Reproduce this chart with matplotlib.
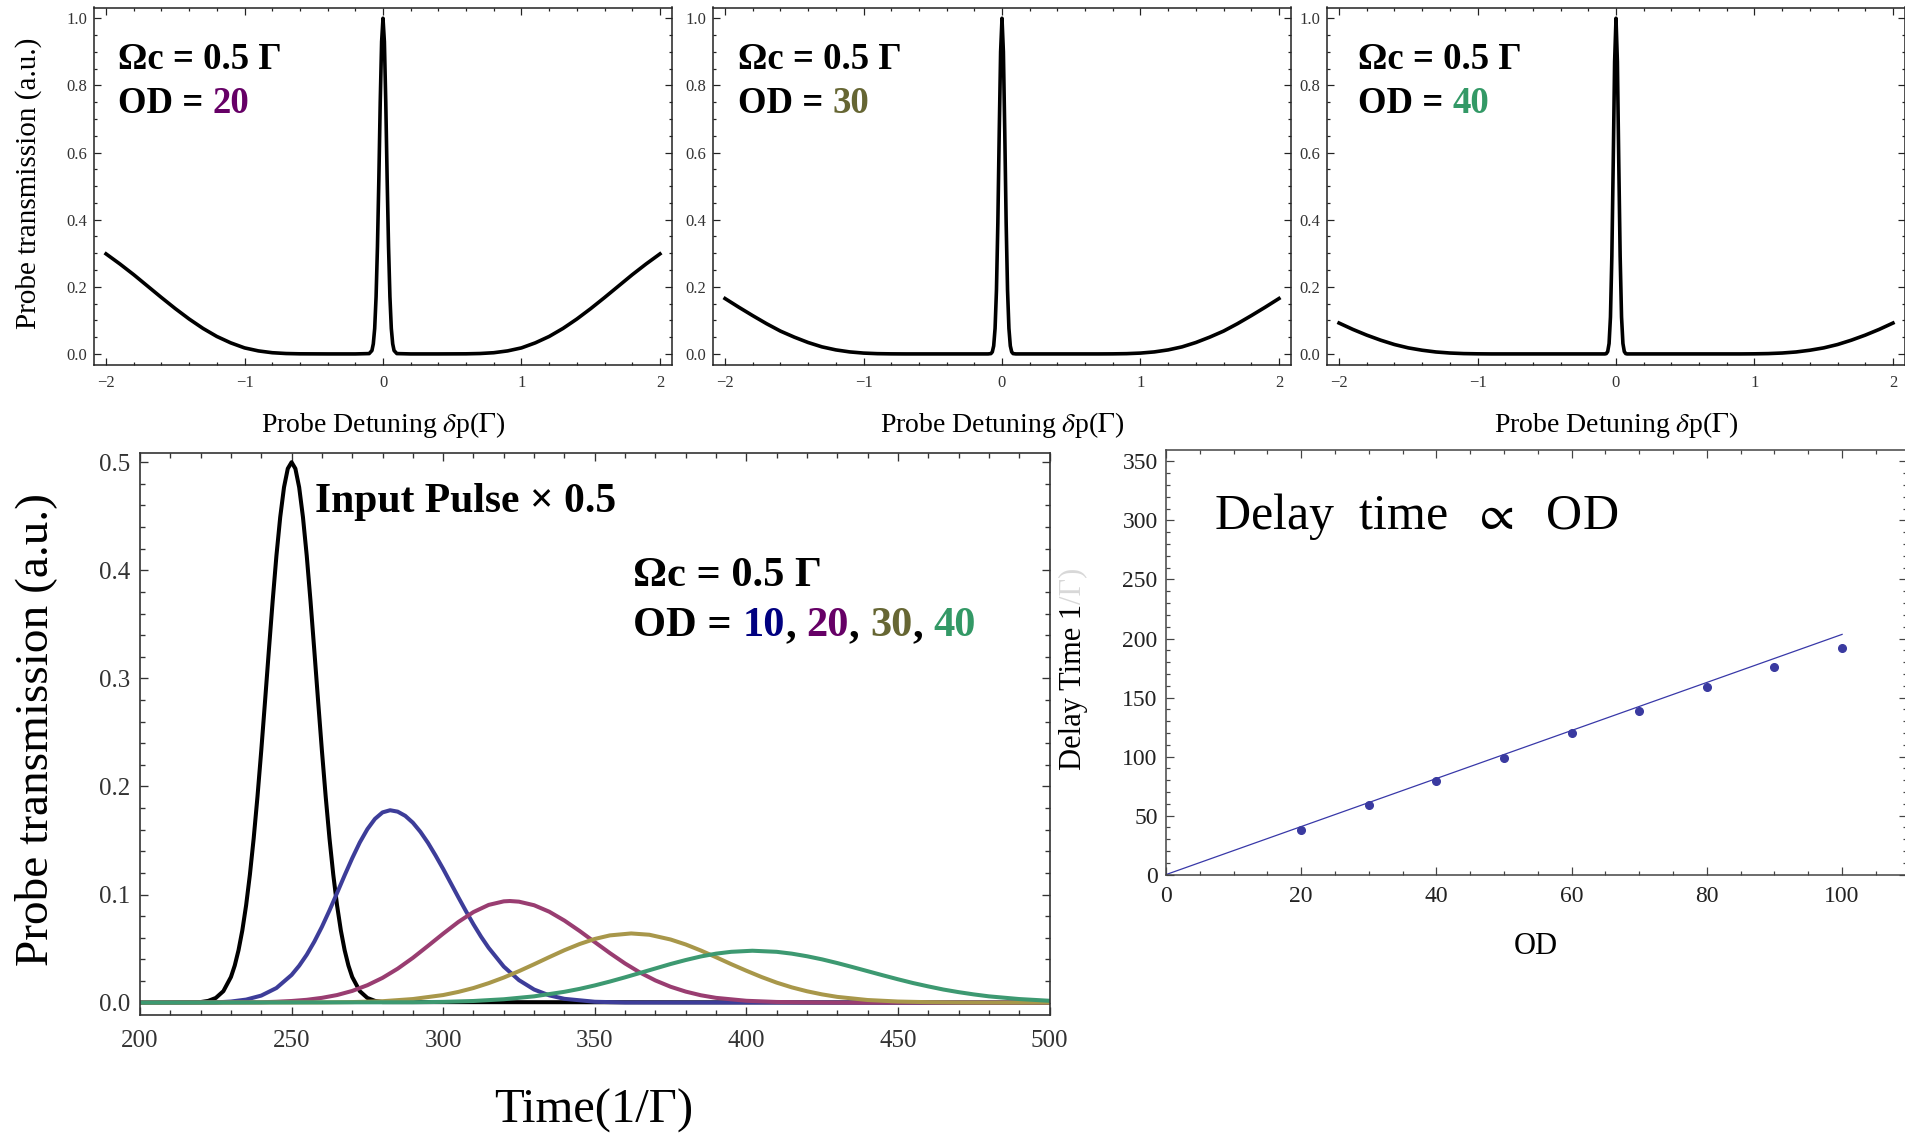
import matplotlib
matplotlib.use('Agg')
import matplotlib.pyplot as plt
from matplotlib.ticker import MultipleLocator

plt.rcParams['font.family'] = ['Liberation Serif', 'DejaVu Serif']
plt.rcParams['mathtext.fontset'] = 'stix'

# --- probe transmission spectra (half, mirrored about 0) ---
det_half = [0, 0.01, 0.02, 0.03, 0.04, 0.05, 0.06, 0.07, 0.08, 0.1, 0.2, 0.4, 0.6, 0.7,
            0.8, 0.9, 1.0, 1.1, 1.2, 1.3, 1.4, 1.5, 1.6, 1.7, 1.8, 1.9, 2.0]
trans_od20 = [1.0, 0.93, 0.75, 0.52, 0.32, 0.17, 0.076, 0.03, 0.01, 0.001, 0.0, 0.0, 0.0003, 0.0012,
              0.0036, 0.009, 0.018, 0.033, 0.052, 0.076, 0.104, 0.135, 0.168, 0.202, 0.236, 0.268, 0.298]
trans_od30 = [1.0, 0.90, 0.66, 0.39, 0.19, 0.076, 0.024, 0.006, 0.001, 0.0, 0.0, 0.0, 0.0, 0.0,
              0.0002, 0.0008, 0.0025, 0.006, 0.012, 0.021, 0.034, 0.050, 0.068, 0.090, 0.114, 0.139, 0.165]
trans_od40 = [1.0, 0.87, 0.57, 0.29, 0.11, 0.031, 0.007, 0.001, 0.0, 0.0, 0.0, 0.0, 0.0, 0.0,
              0.0, 0.0, 0.0003, 0.001, 0.0027, 0.0058, 0.011, 0.018, 0.028, 0.041, 0.056, 0.073, 0.092]
panel_od = ['20', '30', '40']
od_colors = {'10': '#000080', '20': '#660066', '30': '#666633', '40': '#339966'}

# --- pulses vs time ---
input_t = [200, 220, 222.5, 225, 227.5, 230, 231.25, 232.5, 233.75, 235, 236.25, 237.5, 238.75, 240,
           241.25, 242.5, 243.75, 245, 246.25, 247.5, 248.75, 250, 251.25, 252.5, 253.75, 255, 256.25,
           257.5, 258.75, 260, 261.25, 262.5, 263.75, 265, 266.25, 267.5, 268.75, 270, 272.5, 275, 277.5,
           280, 500]
input_v = [0, 0.0005, 0.0016, 0.0043, 0.0106, 0.0237, 0.0343, 0.0485, 0.0668, 0.0900, 0.1184, 0.1520,
           0.1906, 0.2333, 0.2790, 0.3257, 0.3713, 0.4135, 0.4492, 0.4768, 0.4941, 0.5, 0.4941, 0.4768,
           0.4492, 0.4135, 0.3713, 0.3257, 0.2790, 0.2333, 0.1906, 0.1520, 0.1184, 0.0900, 0.0668, 0.0485,
           0.0343, 0.0237, 0.0106, 0.0043, 0.0016, 0.0005, 0.0]
od10_t = [200, 225, 230, 235, 240, 245, 250, 252.5, 255, 257.5, 260, 262.5, 265, 267.5, 270, 272.5, 275,
          277.5, 280, 282.5, 285, 287.5, 290, 292.5, 295, 297.5, 300, 302.5, 305, 307.5, 310, 312.5, 315,
          320, 325, 330, 335, 340, 350, 360, 500]
od10_v = [0, 0.0002, 0.001, 0.0028, 0.0065, 0.0135, 0.0256, 0.0341, 0.0443, 0.0564, 0.0701, 0.0853,
          0.1014, 0.1178, 0.1336, 0.1482, 0.1605, 0.170, 0.1760, 0.178, 0.1767, 0.1728, 0.1665, 0.158,
          0.1478, 0.1361, 0.1237, 0.1106, 0.0975, 0.0847, 0.0724, 0.0610, 0.0507, 0.0333, 0.0208, 0.0121,
          0.0067, 0.0035, 0.0008, 0.0001, 0]
od20_t = [200, 240, 245, 250, 255, 260, 265, 270, 275, 280, 285, 290, 295, 300, 305, 310, 315, 320, 322,
          325, 330, 335, 340, 345, 350, 355, 360, 365, 370, 375, 380, 385, 390, 400, 410, 420, 430, 500]
od20_v = [0, 0.0003, 0.0008, 0.0015, 0.0026, 0.0044, 0.0070, 0.0108, 0.0161, 0.0229, 0.0314, 0.0414,
          0.0525, 0.0638, 0.0746, 0.0838, 0.0904, 0.0937, 0.094, 0.0934, 0.0901, 0.0841, 0.0759, 0.0663,
          0.0560, 0.0458, 0.0362, 0.0277, 0.0205, 0.0147, 0.0102, 0.0068, 0.0044, 0.0017, 0.0006, 0.0002,
          0.0, 0]
od30_t = [200, 260, 270, 280, 290, 300, 305, 310, 315, 320, 325, 330, 335, 340, 345, 350, 355, 362, 368,
          375, 380, 385, 390, 395, 400, 405, 410, 415, 420, 425, 430, 440, 450, 460, 470, 480, 500]
od30_v = [0, 0.0002, 0.0005, 0.0013, 0.0033, 0.0070, 0.0099, 0.0135, 0.0180, 0.0232, 0.0291, 0.0355,
          0.0421, 0.0485, 0.0542, 0.0589, 0.0622, 0.064, 0.0628, 0.0584, 0.0538, 0.0482, 0.0420, 0.0356,
          0.0295, 0.0237, 0.0185, 0.0141, 0.0105, 0.0076, 0.0053, 0.0024, 0.0010, 0.0004, 0.0001, 0.0, 0]
od40_t = [200, 290, 300, 310, 320, 330, 340, 345, 350, 355, 360, 365, 370, 375, 380, 385, 390, 395, 402,
          410, 415, 420, 425, 430, 435, 440, 445, 450, 455, 460, 465, 470, 475, 480, 490, 500]
od40_v = [0, 0.0003, 0.0007, 0.0015, 0.0031, 0.0058, 0.0100, 0.0127, 0.0159, 0.0195, 0.0234, 0.0275,
          0.0316, 0.0357, 0.0394, 0.0427, 0.0453, 0.0470, 0.048, 0.0470, 0.0453, 0.0429, 0.0400, 0.0366,
          0.0329, 0.0291, 0.0253, 0.0216, 0.0181, 0.0150, 0.0121, 0.0097, 0.0076, 0.0058, 0.0033, 0.0017]
pulse_colors = ['black', '#3d3d99', '#993d71', '#a8974a', '#3d9971']

# --- delay time vs OD ---
od_vals = [20, 30, 40, 50, 60, 70, 80, 90, 100]
delay_vals = [38, 59, 79, 99, 120, 139, 159, 176, 192]
fit_od = [0, 100]
fit_delay = [0, 203.5]

W, H = 1905.0, 1133.0
fig = plt.figure(figsize=(19.05, 11.33), dpi=100)


def axes_px(left, top, right, bottom):
    return fig.add_axes([left / W, 1 - bottom / H, (right - left) / W, (bottom - top) / H])


def frame(ax, col, lw, major, minor, size, labcol, pad):
    for s in ax.spines.values():
        s.set_color(col)
        s.set_linewidth(lw)
    ax.tick_params(which='both', direction='in', top=True, right=True, color=col, width=lw * 0.8)
    ax.tick_params(which='major', length=major, labelsize=size, labelcolor=labcol, pad=pad)
    ax.tick_params(which='minor', length=minor)


def rich(ax, x, y, pieces, size):
    # pieces drawn one after another, each right-aligned to an invisible running prefix
    shown = ''
    for s, c in pieces:
        shown += s
        ghost = ax.text(x, y, shown.rstrip(), transform=ax.transAxes, fontsize=size,
                        fontweight='bold', alpha=0, va='baseline')
        ax.annotate(s.strip(), xy=(1, 0), xycoords=ghost, ha='right', va='bottom',
                    fontsize=size, fontweight='bold', color=c)


# top row
x_full = [-v for v in det_half[::-1][:-1]] + det_half
lefts = [94, 713, 1327]
text_x = [0.0415, 0.0425, 0.054]
for i, trans in enumerate([trans_od20, trans_od30, trans_od40]):
    ax = axes_px(lefts[i], 7.5, lefts[i] + 578, 365)
    y_full = trans[::-1][:-1] + trans
    ax.plot(x_full, y_full, color='black', lw=2.6)
    ax.set_xlim(-2.087, 2.087)
    ax.set_ylim(-0.033, 1.032)
    ax.xaxis.set_major_locator(MultipleLocator(1))
    ax.xaxis.set_minor_locator(MultipleLocator(0.2))
    ax.yaxis.set_major_locator(MultipleLocator(0.2))
    ax.yaxis.set_minor_locator(MultipleLocator(0.05))
    ax.yaxis.set_major_formatter(plt.FuncFormatter(lambda v, p: '%.1f' % v))
    frame(ax, '#222222', 1.1, 5, 2.5, 12, '#333333', 5)
    ax.tick_params(axis='x', pad=7)
    rich(ax, text_x[i], 0.828, [('Ωc = 0.5 Γ', 'black')], 26.5)
    rich(ax, text_x[i], 0.706, [('OD = ', 'black'), (panel_od[i], od_colors[panel_od[i]])], 26.5)
    cx = (lefts[i] + 289) / W
    fig.text(cx, 1 - 425 / H, 'Probe Detuning $\\delta$p($\\Gamma$)', ha='center', va='center', fontsize=20)
fig.text(29 / W, 1 - 183 / H, 'Probe transmission (a.u.)', rotation=90, ha='center', va='center', fontsize=21)

# bottom left: pulses
ax = axes_px(140, 452.5, 1049.5, 1014.5)
for t, v, c in zip([input_t, od10_t, od20_t, od30_t, od40_t],
                   [input_v, od10_v, od20_v, od30_v, od40_v], pulse_colors):
    ax.plot(t, v, color=c, lw=2.9, solid_joinstyle='round')
ax.set_xlim(200, 500)
ax.set_ylim(-0.011, 0.509)
ax.xaxis.set_major_locator(MultipleLocator(50))
ax.xaxis.set_minor_locator(MultipleLocator(10))
ax.yaxis.set_major_locator(MultipleLocator(0.1))
ax.yaxis.set_minor_locator(MultipleLocator(0.02))
ax.yaxis.set_major_formatter(plt.FuncFormatter(lambda v, p: '%.1f' % v))
frame(ax, '#333333', 1.2, 6, 3.5, 18, '#333333', 7)
ax.tick_params(axis='x', pad=11)
rich(ax, 0.1924, 0.895, [('Input Pulse × 0.5', 'black')], 30)
rich(ax, 0.5425, 0.763, [('Ωc = 0.5 Γ', 'black')], 30.5)
rich(ax, 0.5425, 0.674, [('OD = ', 'black'), ('10', od_colors['10']), (', ', 'black'),
                         ('20', od_colors['20']), (', ', 'black'), ('30', od_colors['30']),
                         (', ', 'black'), ('40', od_colors['40'])], 30.5)
fig.text(36 / W, 1 - 729 / H, 'Probe transmission (a.u.)', rotation=90, ha='center', va='center', fontsize=34)
fig.text(594 / W, 1 - 1111 / H, 'Time(1/Γ)', ha='center', va='center', fontsize=35)

# bottom right: delay time
ax = axes_px(1166, 450, 1907, 874.6)
ax.plot(fit_od, fit_delay, color='#3838a8', lw=0.9)
ax.plot(od_vals, delay_vals, 'o', color='#3a3aa0', ms=5.5)
ax.set_xlim(0, 109.6)
ax.set_ylim(0, 359.7)
ax.set_xticks([0, 20, 40, 60, 80, 100])
ax.xaxis.set_minor_locator(MultipleLocator(5))
ax.yaxis.set_major_locator(MultipleLocator(50))
ax.yaxis.set_minor_locator(MultipleLocator(10))
frame(ax, '#444444', 1.1, 6, 3, 17, '#222222', 6)
ax.tick_params(axis='x', pad=8)
ax.text(0.0642, 0.813, 'Delay  time  $\\propto$  OD', transform=ax.transAxes, fontsize=36, va='baseline')
fig.text(1536 / W, 1 - 946 / H, 'OD', ha='center', va='center', fontsize=22)
lab = fig.text(1073 / W, 1 - 770 / H, 'Delay Time 1', rotation=90, ha='center', va='bottom', fontsize=22)
ax.annotate('/Γ)', xy=(0.5, 1), xycoords=lab, rotation=90, ha='center', va='bottom',
            fontsize=22, color='#d8d8d8', annotation_clip=False)

fig.savefig('out.png', dpi=100)
